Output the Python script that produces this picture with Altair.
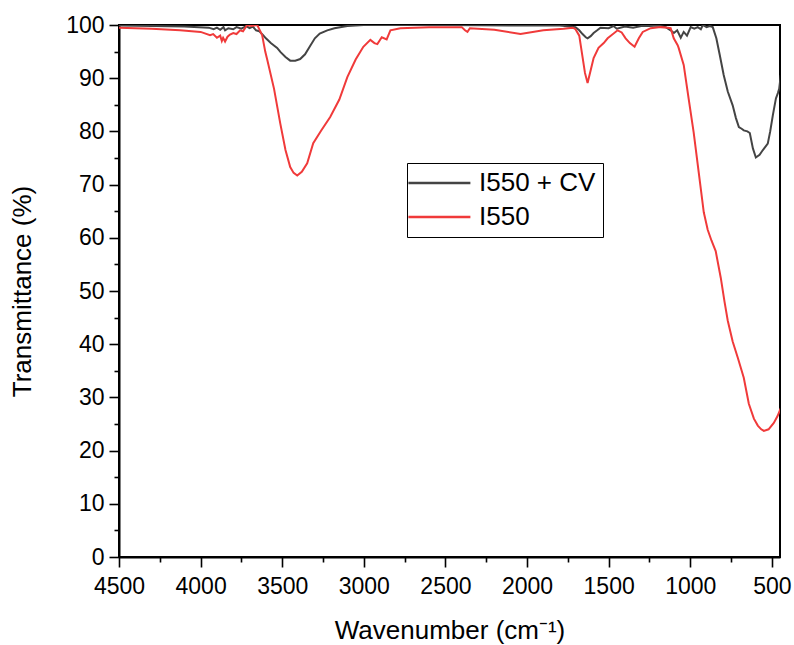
import altair as alt
import pandas as pd

# I550 + CV (dark line): wavenumber (cm-1), transmittance (%)
cv_wn = [4500, 4300, 4100, 3950, 3920, 3900, 3880, 3860, 3850, 3830, 3800, 3780, 3750, 3720,
         3700, 3680, 3660, 3640, 3617, 3600, 3570, 3531, 3510, 3480, 3451, 3420, 3390, 3360,
         3330, 3300, 3270, 3224, 3180, 3101, 3000, 2500, 2000, 1800, 1703, 1680, 1660, 1640,
         1629, 1610, 1592, 1570, 1550, 1500, 1470, 1450, 1400, 1350, 1300, 1250, 1200, 1150,
         1120, 1100, 1080, 1058, 1040, 1020, 997, 975, 954, 935, 923, 900, 880, 862, 840, 820,
         795, 770, 740, 720, 702, 685, 672, 650, 635, 616, 598, 575, 555, 525, 510, 494, 475,
         463, 455, 445]
cv_t = [99.9, 99.8, 99.7, 99.5, 99.2, 99.5, 99.1, 99.6, 99.0, 99.4, 99.2, 99.6, 99.3, 99.8,
        99.4, 99.7, 99.0, 98.8, 98.1, 97.5, 96.6, 95.7, 94.9, 94.0, 93.3, 93.3, 93.6, 94.5,
        96.0, 97.5, 98.4, 99.0, 99.4, 99.8, 100.0, 100.0, 99.9, 99.9, 99.6, 99.0, 98.3, 97.7,
        97.5, 97.9, 98.5, 99.0, 99.5, 99.4, 99.8, 99.3, 99.7, 99.5, 99.8, 99.8, 99.9, 99.6,
        99.0, 98.5, 99.0, 97.6, 98.7, 98.0, 99.6, 99.3, 99.6, 99.2, 100.0, 99.6, 99.8, 99.6,
        97.5, 94.5, 90.6, 87.5, 84.9, 82.5, 80.8, 80.5, 80.2, 80.0, 79.7, 76.8, 75.1, 75.6,
        76.5, 77.7, 80.0, 83.0, 86.2, 87.2, 88.0, 90.6]

# I550 (red line)
i5_wn = [4500, 4300, 4126, 4000, 3942, 3923, 3900, 3880, 3870, 3862, 3850, 3835, 3820, 3800,
         3780, 3758, 3740, 3715, 3690, 3653, 3623, 3604, 3592, 3550, 3512, 3480, 3451, 3430,
         3408, 3380, 3347, 3310, 3260, 3206, 3150, 3101, 3050, 3003, 2960, 2935, 2917, 2890,
         2860, 2837, 2776, 2600, 2400, 2380, 2365, 2350, 2200, 2040, 1900, 1776, 1720, 1703,
         1680, 1660, 1645, 1629, 1610, 1592, 1562, 1530, 1506, 1445, 1420, 1396, 1370, 1341,
         1315, 1291, 1242, 1181, 1138, 1120, 1101, 1077, 1071, 1040, 1010, 979, 948, 917, 893,
         870, 844, 813, 790, 770, 740, 709, 672, 641, 610, 586, 565, 549, 520, 488, 465, 445]
i5_t = [99.5, 99.3, 99.0, 98.7, 98.1, 98.3, 97.6, 98.0, 97.0, 97.6, 96.9, 97.8, 98.2, 98.5,
        98.3, 99.0, 98.8, 100.0, 99.8, 100.0, 98.1, 95.0, 93.5, 88.0, 81.5, 76.5, 73.3, 72.2,
        71.7, 72.4, 74.0, 77.8, 80.2, 82.7, 86.0, 90.2, 93.5, 95.9, 97.2, 96.6, 96.4, 97.7,
        97.3, 99.0, 99.4, 99.6, 99.6, 99.0, 98.7, 99.4, 99.1, 98.3, 99.0, 99.3, 99.5, 99.2,
        98.0, 94.0, 91.0, 89.1, 91.5, 93.8, 95.7, 96.6, 97.5, 99.0, 98.6, 97.5, 96.6, 95.9,
        97.5, 98.7, 99.4, 99.6, 99.5, 99.4, 97.5, 96.2, 95.7, 92.5, 86.2, 79.8, 72.3, 64.8,
        61.5, 59.5, 57.5, 52.5, 48.0, 44.4, 40.5, 37.5, 33.7, 28.8, 26.0, 24.7, 24.0, 23.7,
        24.0, 25.2, 26.5, 28.0]

series_names = ["I550 + CV", "I550"]
series_colors = ["#444444", "#f03a3a"]

x_major = [4500, 4000, 3500, 3000, 2500, 2000, 1500, 1000, 500]
x_minor = [4250, 3750, 3250, 2750, 2250, 1750, 1250, 750]
y_major = [0, 10, 20, 30, 40, 50, 60, 70, 80, 90, 100]
y_minor = [5, 15, 25, 35, 45, 55, 65, 75, 85, 95]

df = pd.concat([
    pd.DataFrame({"wn": cv_wn, "T": cv_t, "s": series_names[0], "o": range(len(cv_wn))}),
    pd.DataFrame({"wn": i5_wn, "T": i5_t, "s": series_names[1], "o": range(len(i5_wn))}),
])

FONT = "Liberation Sans"
xscale = alt.Scale(domain=[450, 4500], reverse=True, nice=False, zero=False)
yscale = alt.Scale(domain=[0, 100], nice=False, zero=False)

main = alt.Chart(df).mark_line(strokeWidth=2, clip=True).encode(
    x=alt.X("wn:Q", scale=xscale,
            axis=alt.Axis(values=x_major, orient="bottom", title="Wavenumber (cm⁻¹)",
                          tickSize=10, labelPadding=8, titlePadding=19,
                          labelFlush=False, labelOverlap=False, format="d")),
    y=alt.Y("T:Q", scale=yscale,
            axis=alt.Axis(values=y_major, orient="left", title="Transmittance (%)",
                          tickSize=10, labelPadding=5, titlePadding=30,
                          labelFlush=False, labelOverlap=False)),
    color=alt.Color("s:N", scale=alt.Scale(domain=series_names, range=series_colors),
                    sort=series_names,
                    legend=alt.Legend(title=None, orient="none", legendX=288, legendY=138,
                                      symbolType="M-1.8,0H4.2", symbolSize=427,
                                      symbolStrokeWidth=2.5, labelFontSize=26,
                                      labelFont=FONT, labelColor="black",
                                      labelOffset=39, rowPadding=8, padding=7,
                                      strokeColor="black", fillColor="white",
                                      labelLimit=400)),
    order="o:Q",
)

minor = alt.Chart(df).mark_point(opacity=0).encode(
    x=alt.X("wn:Q", scale=xscale,
            axis=alt.Axis(values=x_minor, orient="bottom", labels=False, title=None,
                          tickSize=5, domain=False)),
    y=alt.Y("T:Q", scale=yscale,
            axis=alt.Axis(values=y_minor, orient="left", labels=False, title=None,
                          tickSize=5, domain=False)),
)

chart = alt.layer(main, minor).resolve_axis(x="independent", y="independent").properties(
    width=661, height=532,
    autosize=alt.AutoSizeParams(type="none"),
    padding={"left": 119, "top": 25, "right": 14, "bottom": 88},
).configure_view(
    stroke="black", strokeWidth=2,
).configure_axis(
    domainColor="black", domainWidth=2, tickColor="black", tickWidth=1.6,
    labelFont=FONT, labelFontSize=23, labelColor="black",
    titleFont=FONT, titleFontSize=26, titleFontWeight="normal", titleColor="black",
    grid=False,
)

chart.save("out.html", embed_options={"renderer": "svg", "actions": False})
